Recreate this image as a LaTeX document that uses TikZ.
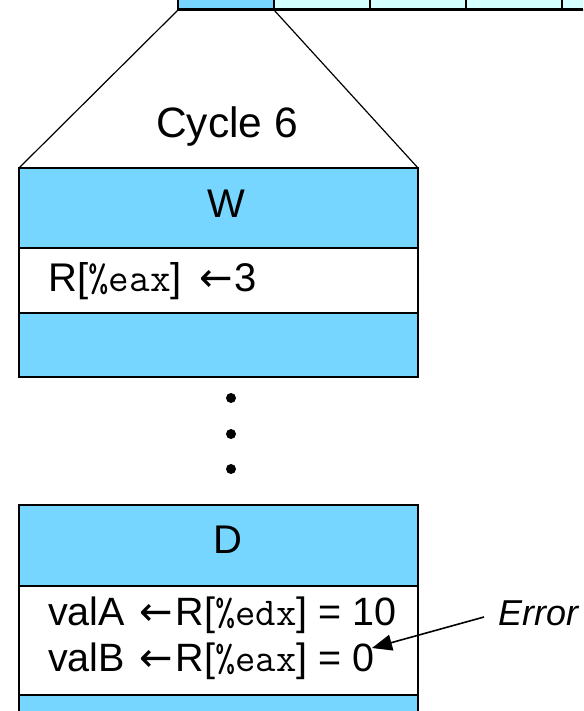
\documentclass[tikz,border=0pt]{standalone}
\usepackage{fontspec}
\setmainfont{Liberation Sans}
\newfontfamily\djv{DejaVu Sans}
\usetikzlibrary{arrows.meta}
\definecolor{stageblue}{RGB}{118,214,255}
\definecolor{cellcyan}{RGB}{212,255,255}
\tikzset{
  bluebox/.style={fill=stageblue,draw=black,line width=1.5pt},
  whitebox/.style={fill=white,draw=black,line width=1.5pt},
  big/.style={font=\fontsize{40}{48}\selectfont,inner sep=0pt},
  regtxt/.style={font=\fontsize{40}{48}\selectfont,inner sep=0pt,anchor=base west},
  regsmall/.style={font=\fontsize{39.5}{46}\selectfont,inner sep=0pt,anchor=base west},
  dotmark/.style={circle,fill=black,inner sep=0pt,minimum size=10pt},
}
\newcommand{\regm}[1]{{\ttfamily #1}}
\newcommand{\larr}{{\djv\fontsize{40}{40}\selectfont ←}}
\begin{document}
\begin{tikzpicture}[x=1pt,y=-1pt]
\useasboundingbox (0,0) rectangle (583,711);
% top pipeline row
\begin{scope}
\clip (0,0) rectangle (583,711);
\draw[fill=stageblue,line width=2pt] (178,-10) rectangle (274,10);
\draw[fill=cellcyan,line width=2pt] (274,-10) rectangle (370,10);
\draw[fill=cellcyan,line width=2pt] (370,-10) rectangle (466,10);
\draw[fill=cellcyan,line width=2pt] (466,-10) rectangle (562,10);
\draw[fill=cellcyan,line width=2pt] (562,-10) rectangle (620,10);
\draw[line width=3pt] (178,10) -- (583,10);
\end{scope}
% trapezoid
\coordinate (tl) at (178,10);
\coordinate (tr) at (274,10);
\coordinate (bl) at (19,168);
\coordinate (br) at (418,168);
\draw[line width=1.2pt] (tl) -- (bl);
\draw[line width=1.2pt] (tr) -- (br);
\node[big,font=\fontsize{42.5}{50}\selectfont,anchor=base] (cyc) at (227,138) {Cycle 6};
% W stage
\draw[bluebox] (19,168) rectangle (418,248);
\draw[whitebox] (19,248) rectangle (418,313);
\draw[bluebox] (19,313) rectangle (418,377);
\node[big,anchor=base] (wlab) at (226,218) {W};
\node[regtxt] (wtxt) at (48,291) {R[\regm{\%eax}]\hspace{18pt}\larr\kern1pt3};
% dots
\node[dotmark] (d1) at (231,398) {};
\node[dotmark] (d2) at (231,434) {};
\node[dotmark] (d3) at (231,469) {};
% D stage
\draw[bluebox] (19,505) rectangle (418,586);
\draw[whitebox] (19,586) rectangle (418,695);
\draw[bluebox] (19,695) rectangle (418,720);
\node[big,anchor=base] (dlab) at (228,553) {D};
\node[regsmall] (va) at (48,625) {valA\hspace{14pt}\larr\kern3pt R[\regm{\%edx}] = 10};
\node[regsmall] (vb) at (48,671) {valB\hspace{14pt}\larr\kern3pt R[\regm{\%eax}] = 0};
% error
\node[regtxt,font=\fontsize{36}{44}\selectfont\itshape] (err) at (498,625) {Error};
\coordinate (tail) at (484,617);
\coordinate (tip) at (372,648);
\draw[line width=1.6pt,-{Triangle[length=20pt,width=16pt]}] (tail) -- (tip);
\end{tikzpicture}
\end{document}
